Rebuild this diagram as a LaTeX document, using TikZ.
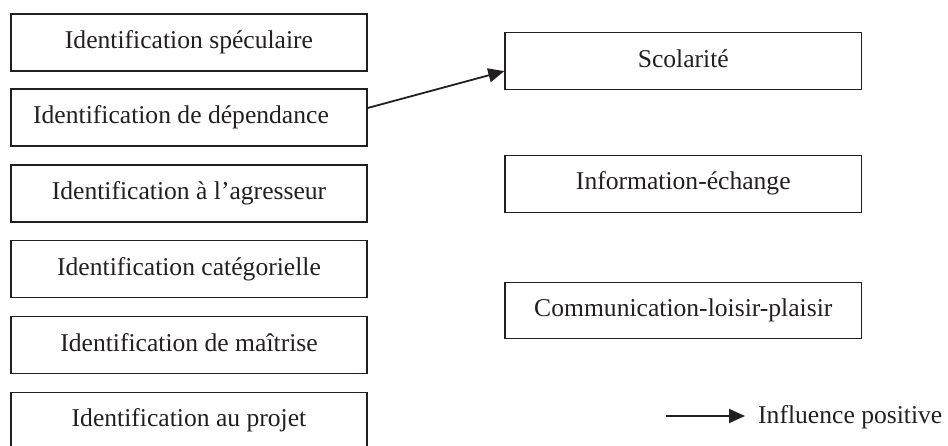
\documentclass[tikz,border=0pt]{standalone}
\usepackage{fontspec}
\setmainfont{Liberation Serif}
\usetikzlibrary{arrows.meta}
\definecolor{ink}{HTML}{231F20}
\tikzset{
  txt/.style={text=ink, font=\fontsize{25.6}{29}\selectfont},
  box/.style={draw=ink, line width=1.3pt, rectangle, inner sep=0pt, txt,
    text height=17.5pt, text depth=5.5pt},
  lbox/.style={box, minimum width=356pt, minimum height=57pt},
  rbox/.style={box, minimum width=356.7pt, minimum height=56.5pt},
  arr/.style={draw=ink, line width=1.8pt, -{Triangle[length=16pt,width=14pt]}},
}
\begin{document}
\begin{tikzpicture}[x=1pt,y=1pt]
\useasboundingbox (0,0) rectangle (948,-446);
\node[lbox] (a) at (189,-42.5) {Identification spéculaire};
\node[lbox] (b) at (189,-117.5) {\hspace*{-16pt}Identification de dépendance};
\node[lbox] (c) at (189,-193.5) {Identification à l’agresseur};
\node[lbox] (d) at (189,-269.2) {Identification catégorielle};
\node[lbox] (e) at (189,-345.2) {Identification de maîtrise};
\node[lbox] (f) at (189,-420.7) {Identification au projet};
\node[rbox] (s) at (683.3,-61.1) {Scolarité};
\node[rbox] (i) at (683.3,-184) {Information-échange};
\node[rbox] (k) at (683.3,-310.5) {Communication-loisir-plaisir};
\draw[arr] ([yshift=9.5pt]b.east) -- ([yshift=-10pt]s.west);
\coordinate (l1) at (666,-416);
\coordinate (l2) at (745,-416);
\node[anchor=base west, inner sep=0pt, txt] (leg) at (758,-423) {Influence positive};
\draw[arr] (l1) -- (l2);
\end{tikzpicture}
\end{document}
